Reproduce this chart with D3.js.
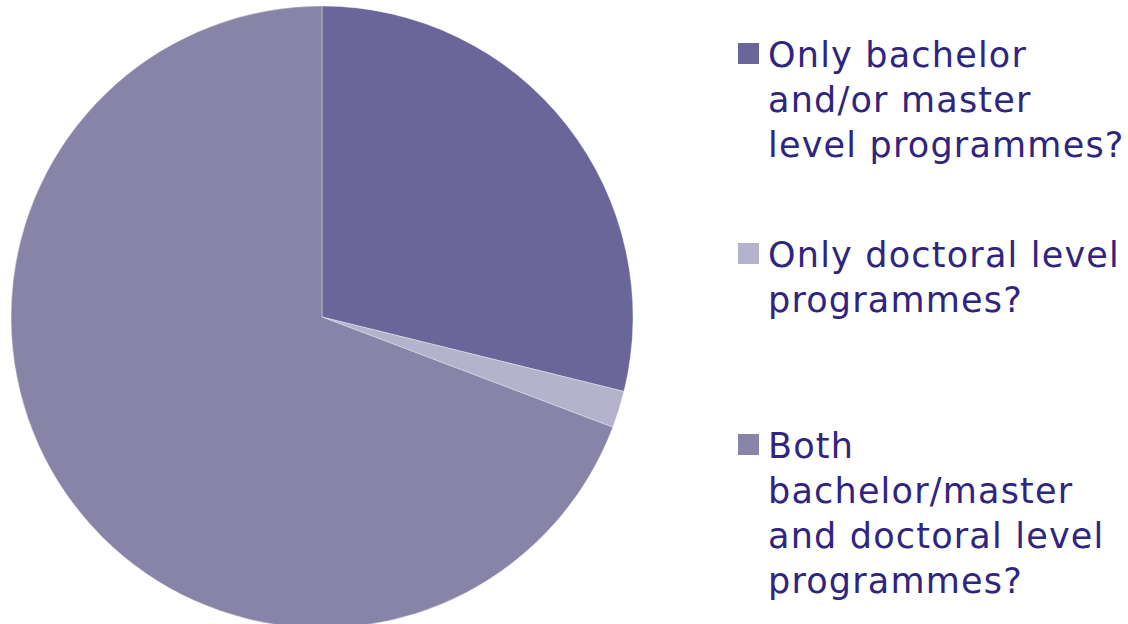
<!DOCTYPE html>
<html>
<head>
<meta charset="utf-8">
<script src="https://cdn.jsdelivr.net/npm/d3@7"></script>
<style>
  body { margin: 0; background: #fff; }
  svg { display: block; }
</style>
</head>
<body>
<svg id="canvas" width="1128" height="624"></svg>
<script>
const categories = [
    ["Only bachelor", "and/or master", "level programmes?"],
    ["Only doctoral level", "programmes?"],
    ["Both", "bachelor/master", "and doctoral level", "programmes?"]
];
const values = [15, 1, 36];
const colors = ["#6b6699", "#b4b2cc", "#8784a8"];

const svg = d3.select("#canvas");

const cx = 322, cy = 317, radius = 311;

const pie = d3.pie().sort(null).value(d => d);
const arc = d3.arc().innerRadius(0).outerRadius(radius);

const pieGroup = svg.append("g").attr("transform", `translate(${cx}, ${cy})`);

pieGroup.selectAll("path")
    .data(pie(values))
    .enter()
    .append("path")
    .attr("d", arc)
    .attr("fill", (d, i) => colors[i])
    .attr("stroke", "#ffffff")
    .attr("stroke-opacity", 0.35)
    .attr("stroke-width", 1);

// Legend
const legendTop = [43, 243, 434]; // top of each marker square
const lineHeight = 45;

const legend = svg.append("g");

const items = legend.selectAll("g")
    .data(categories)
    .enter()
    .append("g")
    .attr("transform", (d, i) => `translate(0, ${legendTop[i]})`);

items.append("rect")
    .attr("x", 738)
    .attr("y", 0)
    .attr("width", 21)
    .attr("height", 21)
    .attr("fill", (d, i) => colors[i]);

items.append("text")
    .attr("x", 768)
    .attr("y", 24)
    .attr("font-family", "DejaVu Sans, Verdana, sans-serif")
    .attr("font-size", 35)
    .attr("letter-spacing", 1.2)
    .attr("fill", "#2f2580")
    .selectAll("tspan")
    .data(d => d)
    .enter()
    .append("tspan")
    .attr("x", 768)
    .attr("dy", (d, i) => i === 0 ? 0 : lineHeight)
    .text(d => d);
</script>
</body>
</html>
